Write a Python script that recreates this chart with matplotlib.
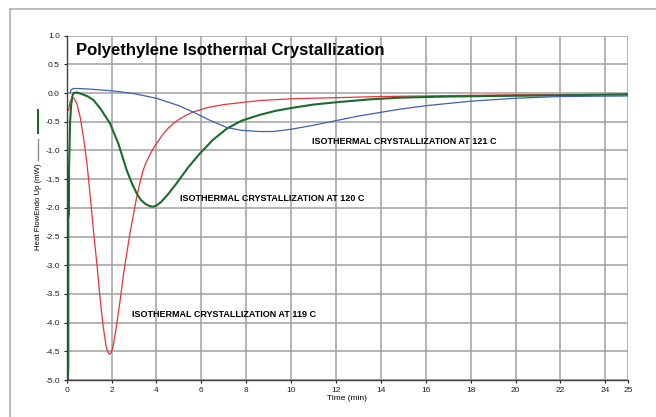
import numpy as np
import matplotlib.pyplot as plt
from matplotlib.lines import Line2D

# 119 C run (red)
t_119 = [0.08, 0.15, 0.25, 0.33, 0.45, 0.6, 0.75, 0.9, 1.05, 1.19, 1.35, 1.48, 1.62,
         1.75, 1.82, 1.9, 1.97, 2.05, 2.2, 2.37, 2.55, 2.82, 3.1, 3.25, 3.41, 3.55,
         3.7, 3.85, 4.0, 4.25, 4.5, 4.75, 5.0, 5.3, 5.63, 6.3, 7.0, 8.6, 10.0, 12.0,
         14.0, 16.0, 18.0, 20.0, 22.0, 25.0]
hf_119 = [-0.3, -0.15, -0.09, -0.09, -0.18, -0.42, -0.78, -1.22, -1.8, -2.39, -3.0,
          -3.55, -4.05, -4.4, -4.5, -4.55, -4.53, -4.45, -4.1, -3.64, -3.1, -2.44,
          -1.85, -1.58, -1.34, -1.2, -1.08, -0.97, -0.88, -0.74, -0.62, -0.53, -0.46,
          -0.39, -0.33, -0.25, -0.2, -0.13, -0.1, -0.08, -0.06, -0.05, -0.04, -0.03,
          -0.03, -0.03]

# 120 C run (green)
t_120 = [0.05, 0.07, 0.07, 0.1, 0.1, 0.15, 0.2, 0.25, 0.3, 0.45, 0.7, 0.95, 1.19,
         1.5, 1.93, 2.3, 2.67, 2.9, 3.12, 3.3, 3.5, 3.7, 3.86, 4.0, 4.2, 4.5, 4.9,
         5.4, 5.94, 6.5, 7.13, 7.8, 8.6, 9.3, 10.0, 11.0, 12.0, 13.5, 14.85, 17.0,
         19.15, 22.0, 25.0]
hf_120 = [-5.0, -4.8, -2.2, -2.1, -1.4, -0.5, -0.2, -0.06, 0.0, 0.01, -0.02, -0.06,
          -0.12, -0.27, -0.53, -0.88, -1.34, -1.57, -1.75, -1.86, -1.93, -1.97, -1.98,
          -1.96, -1.9, -1.77, -1.57, -1.3, -1.05, -0.82, -0.62, -0.48, -0.38, -0.31,
          -0.26, -0.2, -0.16, -0.11, -0.08, -0.06, -0.05, -0.04, -0.02]

# 121 C run (blue)
t_121 = [0.15, 0.2, 0.3, 0.5, 1.0, 2.0, 3.0, 4.0, 5.0, 5.63, 6.3, 7.13, 7.8, 8.2,
         8.6, 9.2, 9.6, 10.0, 11.0, 12.0, 13.0, 14.85, 16.0, 18.04, 20.0, 21.97, 25.0]
hf_121 = [0.0, 0.06, 0.08, 0.08, 0.07, 0.04, -0.01, -0.09, -0.22, -0.33, -0.46,
          -0.6, -0.65, -0.66, -0.67, -0.67, -0.65, -0.63, -0.56, -0.48, -0.4, -0.28,
          -0.22, -0.14, -0.09, -0.06, -0.05]

x_ticks = [0, 2, 4, 6, 8, 10, 12, 14, 16, 18, 20, 22, 24, 25]
y_ticks = np.arange(-5.0, 1.01, 0.5)

plt.rcParams['font.family'] = ['Liberation Sans', 'DejaVu Sans']

fig = plt.figure(figsize=(6.56, 4.17), dpi=100)
ax = fig.add_axes([0.1017, 0.0887, 0.8553, 0.8257])

# frame around the whole chart (top and left only visible)
fig.add_artist(Line2D([10 / 656, 1.0], [1 - 9 / 417, 1 - 9 / 417], color='#b0b0b0', lw=1.2))
fig.add_artist(Line2D([10 / 656, 10 / 656], [0.0, 1 - 9 / 417], color='#b0b0b0', lw=1.2))

ax.plot(t_119, hf_119, color='#e8323c', lw=0.9)
ax.plot(t_120, hf_120, color='#1b6b2c', lw=1.5)
ax.plot(t_121, hf_121, color='#3d5fb4', lw=0.9)

ax.set_xlim(0, 25)
ax.set_ylim(-5.0, 1.0)
ax.set_xticks(x_ticks)
ax.set_yticks(y_ticks)
ax.set_yticklabels([f'{v:.1f}' for v in y_ticks])
ax.grid(True, color='#a0a0a0', lw=1.1)
ax.set_axisbelow(True)
for side in ['top', 'right']:
    ax.spines[side].set_visible(False)
for side in ['left', 'bottom']:
    ax.spines[side].set_color('#404040')
    ax.spines[side].set_linewidth(1.0)
ax.tick_params(labelsize=6, length=2, width=0.8, colors='#202020', pad=3)

ax.set_xlabel('Time (min)', fontsize=6, labelpad=1)
fig.text(38 / 656, 1 - 207 / 417, 'Heat FlowEndo Up (mW)', rotation=90,
         fontsize=5.6, ha='center', va='center')
fig.add_artist(Line2D([38 / 656, 38 / 656], [1 - 110 / 417, 1 - 133 / 417], color='#1b6b2c', lw=1.5))
fig.add_artist(Line2D([38 / 656, 38 / 656], [1 - 139 / 417, 1 - 160 / 417], color='#909090', lw=1.0))

ax.text(0.42, 0.75, 'Polyethylene Isothermal Crystallization', fontsize=12,
        fontweight='bold', va='center')
ax.text(10.93, -0.85, 'ISOTHERMAL CRYSTALLIZATION AT 121 C', fontsize=6.5,
        fontweight='bold', va='center')
ax.text(5.06, -1.83, 'ISOTHERMAL CRYSTALLIZATION AT 120 C', fontsize=6.5,
        fontweight='bold', va='center')
ax.text(2.9, -3.85, 'ISOTHERMAL CRYSTALLIZATION AT 119 C', fontsize=6.5,
        fontweight='bold', va='center')

fig.savefig('out.png', dpi=100)
